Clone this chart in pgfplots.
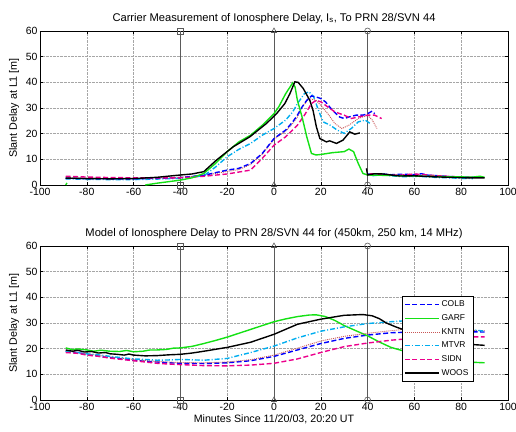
\documentclass[border=0pt]{standalone}
\usepackage{fontspec}
\setmainfont{Liberation Sans}
\usepackage{pgfplots}
\pgfplotsset{compat=1.18}

\definecolor{mgreen}{RGB}{20,225,20}
\definecolor{kntn}{RGB}{200,85,85}
\definecolor{vline}{RGB}{90,90,90}

\pgfplotsset{
  ionoaxis/.style={
    scale only axis, width=468bp, height=154bp,
    xmin=-100, xmax=100, ymin=0, ymax=60,
    xtick distance=20, ytick distance=10,
    grid=major, grid style={densely dotted, gray!70, line width=0.4pt},
    tick align=inside, major tick length=3pt,
    axis line style={black, line width=0.5pt},
    tick style={black, line width=0.4pt},
    /pgf/number format/assume math mode=true,
    tick label style={font=\fontsize{10.5}{11}\selectfont},
    xticklabel style={yshift=0.5pt},
    yticklabel style={xshift=1pt},
    ylabel style={font=\fontsize{10.8}{12}\selectfont, yshift=0pt},
    xlabel style={font=\fontsize{10.7}{12}\selectfont},
    title style={font=\fontsize{11.2}{12}\selectfont, yshift=-2pt},
    ylabel={Slant Delay at L1 [m]},
    clip=false,
  },
  colb/.style={blue, dash pattern=on 5pt off 2.5pt, line width=1.4pt},
  garf/.style={mgreen, line width=1.4pt},
  kntnst/.style={kntn, dash pattern=on 1pt off 1pt, line width=0.9pt},
  mtvr/.style={cyan, dash pattern=on 5pt off 2pt on 1pt off 2pt, line width=1.4pt},
  sidn/.style={magenta, dash pattern=on 5pt off 2.5pt, line width=1.4pt},
  woos/.style={black, line width=1.4pt},
  mk/.style={vline, line width=0.6pt, mark options={solid, fill=white, mark size=3pt}},
}

\begin{document}
\begin{tikzpicture}
\path[use as bounding box] (-40bp,-247bp) rectangle (476bp,185bp);

% ---------------- top: carrier measurement ----------------
\begin{axis}[ionoaxis, at={(0,0)}, anchor=south west,
  title={Carrier Measurement of Ionosphere Delay, I\textsubscript{s}, To PRN 28/SVN 44}]
\addplot[mk, mark=square] coordinates {(-40,0)(-40,60)};
\addplot[mk, mark=triangle] coordinates {(0,0)(0,60)};
\addplot[mk, mark=o] coordinates {(40,0)(40,60)};

% KNTN
\addplot[kntnst] coordinates {
 (-89,2.8)(-80,2.7)(-70,2.6)(-60,2.5)(-50,2.7)(-40,3.0)(-30,3.7)(-20,5.3)(-15,6.0)
 (-10,8.0)(-5,12.0)(0,17.8)(5,21.0)(8,24.0)(10,26.5)(12,30.4)(15,33.7)(18,33.0)
 (20,31.0)(23,27.8)(26,24.0)(29,22.0)(32,23.3)(36,25.9)(40,27.2)(42,25.3)(44,22.0)};
% MTVR
\addplot[mtvr] coordinates {
 (-89,2.4)(-80,2.2)(-70,2.1)(-60,2.1)(-50,2.3)(-40,2.6)(-30,3.6)(-25,7.0)(-20,11.0)
 (-15,13.9)(-10,16.2)(-5,19.4)(0,22.0)(5,25.3)(8,28.5)(10,31.7)(13,35.6)(15,36.3)
 (17,34.3)(19,29.1)(21,24.6)(24,23.3)(27,21.4)(30,20.1)(33,22.0)(36,24.6)(39,25.3)(41,24.0)};
\addplot[mtvr] coordinates {
 (42,3.6)(46,4.0)(50,3.6)(55,3.2)(60,3.4)(65,3.2)(70,2.9)(75,2.8)(80,2.6)(85,2.5)};
% COLB
\addplot[colb] coordinates {
 (-89,2.6)(-80,2.5)(-70,2.4)(-60,2.4)(-50,2.6)(-40,2.9)(-30,3.8)(-25,4.8)(-20,5.8)
 (-15,6.5)(-10,8.4)(-5,12.3)(0,18.1)(5,21.4)(8,24.6)(10,27.2)(12,30.4)(14,33.0)
 (16,34.7)(18,34.3)(20,33.7)(22,32.4)(25,29.1)(28,26.5)(30,25.9)(32,26.5)(35,27.2)
 (38,27.2)(40,27.8)(42,28.8)(43,27.8)};
\addplot[colb] coordinates {
 (40,4.2)(45,4.4)(50,4.0)(55,4.2)(60,4.0)(63,4.4)(66,3.8)(70,3.6)(75,3.3)(80,3.1)(88,3.0)};
% SIDN
\addplot[sidn] coordinates {
 (-89,3.4)(-80,3.1)(-70,2.9)(-60,2.8)(-50,2.8)(-40,2.8)(-30,3.4)(-20,4.3)(-10,5.8)
 (-5,10.4)(0,15.5)(5,18.8)(10,23.3)(13,27.2)(16,31.7)(18,33.0)(20,32.4)(23,30.4)
 (26,28.5)(30,27.2)(33,25.9)(36,26.5)(40,27.2)(43,27.2)(46,25.9)};
\addplot[sidn] coordinates {
 (41,4.4)(45,4.2)(50,3.8)(55,3.9)(60,4.3)(63,4.1)(67,3.8)(72,3.5)(78,3.2)(84,3.0)(88,3.0)};
% GARF
\addplot[garf] coordinates {(-89,0)(-88.5,0.8)};
\addplot[garf] coordinates {
 (-55,0)(-50,0.7)(-45,1.3)(-40,1.9)(-35,2.8)(-30,4.5)(-25,8.4)(-20,13.0)(-15,16.8)
 (-10,19.4)(-5,23.3)(0,27.8)(2,30.4)(5,35.6)(8,39.8)(9,38.2)(10,33.0)(12,26.5)
 (14,18.8)(16,12.3)(18,11.7)(20,11.9)(25,12.6)(30,13.0)(32,14.0)(34,13.0)(36,8.4)
 (38,4.5)(40,3.9)(45,3.8)(55,3.6)(65,3.4)(75,3.2)(85,3.1)(88,3.4)(90,3.0)};
% WOOS
\addplot[woos] coordinates {
 (-89,2.7)(-80,2.5)(-70,2.4)(-60,2.5)(-50,3.0)(-40,3.9)(-35,4.3)(-30,5.2)(-24.6,9.7)
 (-17.4,14.9)(-10.3,18.8)(-3.2,24.0)(1.1,27.8)(4.6,31.7)(6.8,35.6)(8.9,40.2)(10.3,40.0)
 (12.5,37.6)(15.3,33.0)(16.7,29.0)(18.1,22.7)(19.6,18.1)(22.4,16.8)(23.8,17.2)
 (26.7,16.2)(29.5,17.5)(32.4,20.7)(34.5,19.8)(36.7,20.3)};
\addplot[woos] coordinates {
 (39.5,6.5)(40,3.9)(43,4.4)(46.6,4.3)(50,3.9)(53.7,3.5)(60,3.6)(68,3.2)(75,3.0)(82,2.8)(90,2.8)};
\end{axis}

% ---------------- bottom: model ----------------
\begin{axis}[ionoaxis, at={(0,-215bp)}, anchor=south west,
  title={Model of Ionosphere Delay to PRN 28/SVN 44 for (450km, 250 km, 14 MHz)},
  xlabel={Minutes Since 11/20/03, 20:20 UT},
  xlabel style={yshift=3pt},
  legend style={at={(axis cs:54.5,40.5)}, anchor=north west, draw=black,
    fill=white, font=\fontsize{8.5}{9}\selectfont,
    row sep=2.4pt, inner sep=2.5pt, cells={anchor=west}},
  legend image code/.code={\draw (0bp,0bp) -- (34bp,0bp);}]
\addplot[mk, mark=square, forget plot] coordinates {(-40,0)(-40,60)};
\addplot[mk, mark=triangle, forget plot] coordinates {(0,0)(0,60)};
\addplot[mk, mark=o, forget plot] coordinates {(40,0)(40,60)};

\addplot[colb] coordinates {
 (-89,19.0)(-86,18.6)(-83,18.4)(-80,17.6)(-76,17.3)(-73,16.8)(-70,16.5)(-65,16.0)
 (-60,15.5)(-55,15.1)(-50,14.8)(-45,14.5)(-40,14.3)(-30,14.2)(-20,14.5)(-10,15.3)
 (0,17.0)(10,19.5)(20,22.0)(30,24.0)(40,25.3)(50,26.2)(60,26.5)(70,26.6)(80,26.6)(90,26.5)};
\addlegendentry{COLB}
\addplot[garf] coordinates {
 (-89,20.3)(-86,19.6)(-84,19.9)(-80,19.5)(-77,19.0)(-74,19.4)(-70,19.0)(-66,18.9)
 (-63,19.3)(-60,18.8)(-56,19.0)(-53,19.5)(-50,19.5)(-46,19.7)(-43,20.2)(-40,20.3)
 (-35,20.9)(-30,22.0)(-25,23.2)(-20,24.5)(-15,26.0)(-10,27.5)(-5,29.0)(0,30.5)
 (5,31.6)(10,32.5)(15,33.1)(18,33.2)(22,32.5)(26,31.0)(30,29.0)(35,27.0)(40,25.0)
 (45,22.6)(50,20.5)(55,19.2)(60,18.0)(65,17.0)(70,16.0)(75,15.4)(80,15.0)(85,14.7)(90,14.5)};
\addlegendentry{GARF}
\addplot[kntnst] coordinates {
 (-89,19.2)(-80,18.0)(-70,16.8)(-60,15.8)(-50,15.0)(-40,14.6)(-30,14.5)(-20,14.8)
 (-10,15.7)(0,17.5)(10,20.2)(20,23.0)(30,24.8)(40,26.0)(50,27.0)(55,27.5)(65,27.6)
 (75,27.4)(90,27.0)};
\addlegendentry{KNTN}
\addplot[mtvr] coordinates {
 (-89,19.0)(-85,18.6)(-80,18.0)(-75,17.6)(-70,17.0)(-65,16.5)(-60,16.0)(-55,15.8)
 (-50,15.5)(-45,15.6)(-40,15.8)(-30,15.5)(-20,16.2)(-10,18.5)(0,21.0)(10,24.2)
 (20,26.8)(30,28.5)(40,29.8)(50,30.5)(55,30.8)(65,30.0)(75,28.6)(80,27.9)(90,26.8)};
\addlegendentry{MTVR}
\addplot[sidn] coordinates {
 (-89,18.5)(-84,18.2)(-80,17.5)(-75,17.0)(-70,16.3)(-65,15.8)(-60,15.3)(-55,14.8)
 (-50,14.3)(-45,14.0)(-40,13.8)(-30,13.4)(-20,13.3)(-10,13.6)(0,14.3)(10,16.0)
 (20,18.5)(30,20.8)(40,22.2)(50,23.3)(55,23.7)(65,24.2)(80,24.6)(90,24.6)};
\addlegendentry{SIDN}
\addplot[woos] coordinates {
 (-89,19.5)(-86,19.0)(-84,19.4)(-81,18.7)(-78,18.9)(-75,18.3)(-72,18.5)(-70,18.0)
 (-67,17.8)(-64,17.5)(-62,17.9)(-60,17.5)(-55,17.2)(-50,17.3)(-45,17.6)(-40,17.8)
 (-35,18.3)(-30,19.0)(-20,20.5)(-10,22.5)(0,25.6)(10,29.5)(20,31.5)(30,33.0)(38,33.3)
 (42,32.8)(45,31.7)(48,30.0)(52,28.5)(55,27.5)(60,26.0)(65,24.6)(70,23.4)(75,22.5)
 (80,22.0)(85,21.6)(90,21.3)};
\addlegendentry{WOOS}
\end{axis}
\end{tikzpicture}
\end{document}
